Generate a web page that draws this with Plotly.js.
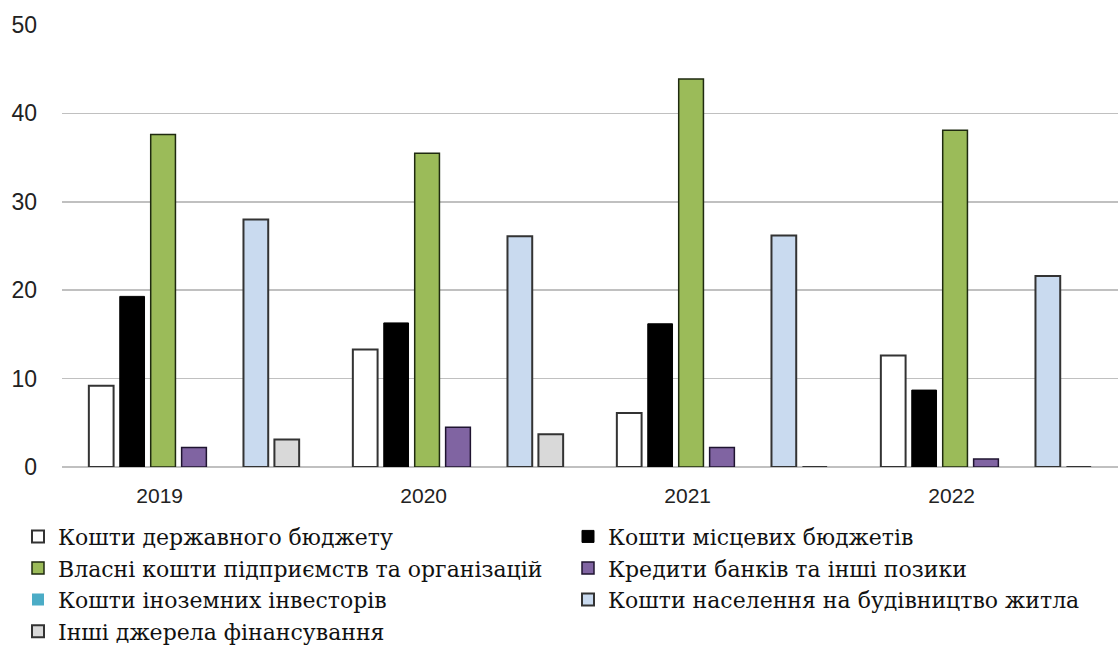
<!DOCTYPE html>
<html>
<head>
<meta charset="utf-8">
<script src="https://cdn.plot.ly/plotly-3.0.1.min.js"></script>
<style>
  html, body { margin: 0; padding: 0; background: #ffffff; }
  #chart { width: 1118px; height: 655px; }
</style>
</head>
<body>
<div id="chart"></div>
<script>
// ---- data ----
const years = ['2019', '2020', '2021', '2022'];
const seriesNames = [
  'Кошти державного бюджету',
  'Кошти місцевих бюджетів',
  'Власні кошти підприємств та організацій',
  'Кредити банків та інші позики',
  'Кошти іноземних інвесторів',
  'Кошти населення на будівництво житла',
  'Інші джерела фінансування'
];
const stateBudget      = [9.2, 13.3, 6.1, 12.6];
const localBudgets     = [19.3, 16.3, 16.2, 8.7];
const ownFunds         = [37.6, 35.5, 43.9, 38.1];
const bankCredits      = [2.2, 4.5, 2.2, 0.9];
const foreignInvestors = [0, 0, 0, 0];
const population       = [28.0, 26.1, 26.2, 21.6];
const otherSources     = [3.1, 3.7, 0, 0];
const yTicks = [0, 10, 20, 30, 40, 50];

// ---- styles ----
const fills = ['#ffffff', '#000000', '#9bbb59', '#8064a2', '#4bacc6', '#c9daef', '#d9d9d9'];
const lineColors = ['#333333', '#000000', '#1f2a10', '#1f1430', '#4bacc6', '#333333', '#333333'];
const lineWidths = [2, 1, 1.5, 1.5, 0, 2, 2];
const values = [stateBudget, localBudgets, ownFunds, bankCredits, foreignInvestors, population, otherSources];

const xIdx = years.map((_, i) => i);
const traces = values.map((v, k) => ({
  type: 'bar',
  name: seriesNames[k],
  x: xIdx,
  y: v,
  marker: { color: fills[k], line: { color: lineColors[k], width: lineWidths[k] } },
  hoverinfo: 'name+y'
}));

const layout = {
  width: 1118,
  height: 655,
  margin: { l: 62, r: 0, t: 25, b: 188 },
  paper_bgcolor: '#ffffff',
  plot_bgcolor: '#ffffff',
  barmode: 'group',
  bargap: 0.18,
  bargroupgap: 0.2,
  showlegend: true,
  xaxis: {
    range: [-0.5, 3.5],
    tickmode: 'array',
    tickvals: xIdx.map(i => i - 0.13),
    ticktext: years,
    showgrid: false,
    zeroline: false,
    showline: false,
    ticks: '',
    ticklabelstandoff: 14,
    tickfont: { family: 'Liberation Sans, Arial, sans-serif', size: 21, color: '#222222' }
  },
  yaxis: {
    range: [0, 50],
    tickmode: 'array',
    tickvals: yTicks,
    showgrid: true,
    gridcolor: '#c0c0c0',
    gridwidth: 1.5,
    zeroline: true,
    zerolinecolor: '#c0c0c0',
    zerolinewidth: 1.5,
    showline: false,
    ticks: '',
    ticklabelstandoff: 24,
    tickfont: { family: 'Liberation Sans, Arial, sans-serif', size: 23, color: '#222222' }
  },
  legend: {
    orientation: 'h',
    x: -0.04,
    xanchor: 'left',
    y: -0.11,
    yanchor: 'top',
    entrywidth: 505,
    entrywidthmode: 'pixels',
    traceorder: 'normal',
    itemwidth: 30,
    font: { family: 'DejaVu Serif, Liberation Serif, serif', size: 22, color: '#111111' },
    bgcolor: 'rgba(0,0,0,0)'
  }
};

Plotly.newPlot('chart', traces, layout, { displayModeBar: false, staticPlot: true });
</script>
</body>
</html>
